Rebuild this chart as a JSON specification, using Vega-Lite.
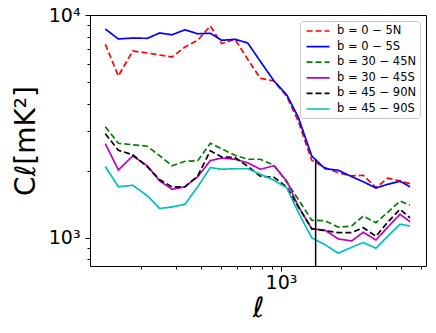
{
  "$schema": "https://vega.github.io/schema/vega-lite/v6.json",
  "width": 336,
  "height": 251,
  "autosize": "none",
  "padding": {"left": 90, "top": 15, "right": 10, "bottom": 67},
  "background": "white",
  "config": {
    "view": {"stroke": "black", "strokeWidth": 1},
    "font": "DejaVu Sans",
    "axis": {"grid": false, "domain": false, "tickColor": "black", "labelColor": "black", "titleColor": "black", "labelFont": "DejaVu Sans", "titleFont": "DejaVu Sans", "titleFontWeight": "normal"},
    "legend": {"strokeColor": "#c8c8c8", "strokeWidth": 1, "fillColor": "white", "cornerRadius": 3, "padding": 3}
  },
  "datasets": {
    "lines": [
      {"l":132.3,"v":7386,"s":"b = 0 − 5N"},{"l":153.7,"v":5321,"s":"b = 0 − 5N"},{"l":181.4,"v":6891,"s":"b = 0 − 5N"},{"l":214.5,"v":6750,"s":"b = 0 − 5N"},{"l":247.5,"v":6611,"s":"b = 0 − 5N"},{"l":285.1,"v":6476,"s":"b = 0 − 5N"},{"l":331.1,"v":7181,"s":"b = 0 − 5N"},{"l":383.3,"v":7697,"s":"b = 0 − 5N"},{"l":443.1,"v":8925,"s":"b = 0 − 5N"},{"l":505.2,"v":7439,"s":"b = 0 − 5N"},{"l":588.8,"v":7778,"s":"b = 0 − 5N"},{"l":681.6,"v":6324,"s":"b = 0 − 5N"},{"l":788,"v":5195,"s":"b = 0 − 5N"},{"l":922.6,"v":5052,"s":"b = 0 − 5N"},{"l":1068,"v":4313,"s":"b = 0 − 5N"},{"l":1220,"v":3331,"s":"b = 0 − 5N"},{"l":1424,"v":2225,"s":"b = 0 − 5N"},{"l":1660,"v":2063,"s":"b = 0 − 5N"},{"l":1934,"v":1955,"s":"b = 0 − 5N"},{"l":2257,"v":1891,"s":"b = 0 − 5N"},{"l":2579,"v":1905,"s":"b = 0 − 5N"},{"l":2985,"v":1677,"s":"b = 0 − 5N"},{"l":3416,"v":1847,"s":"b = 0 − 5N"},{"l":3936,"v":1800,"s":"b = 0 − 5N"},{"l":4416,"v":1745,"s":"b = 0 − 5N"},
      {"l":132.3,"v":8651,"s":"b = 0 − 5S"},{"l":153.7,"v":7802,"s":"b = 0 − 5S"},{"l":181.4,"v":7874,"s":"b = 0 − 5S"},{"l":214.5,"v":7858,"s":"b = 0 − 5S"},{"l":247.5,"v":8301,"s":"b = 0 − 5S"},{"l":285.1,"v":8150,"s":"b = 0 − 5S"},{"l":331.1,"v":8580,"s":"b = 0 − 5S"},{"l":383.3,"v":8233,"s":"b = 0 − 5S"},{"l":443.1,"v":8277,"s":"b = 0 − 5S"},{"l":505.2,"v":7697,"s":"b = 0 − 5S"},{"l":588.8,"v":7778,"s":"b = 0 − 5S"},{"l":681.6,"v":7486,"s":"b = 0 − 5S"},{"l":788,"v":6194,"s":"b = 0 − 5S"},{"l":922.6,"v":5052,"s":"b = 0 − 5S"},{"l":1068,"v":4380,"s":"b = 0 − 5S"},{"l":1220,"v":3471,"s":"b = 0 − 5S"},{"l":1424,"v":2326,"s":"b = 0 − 5S"},{"l":1660,"v":2038,"s":"b = 0 − 5S"},{"l":1934,"v":2006,"s":"b = 0 − 5S"},{"l":2257,"v":1879,"s":"b = 0 − 5S"},{"l":2579,"v":1781,"s":"b = 0 − 5S"},{"l":2985,"v":1670,"s":"b = 0 − 5S"},{"l":3416,"v":1735,"s":"b = 0 − 5S"},{"l":3936,"v":1790,"s":"b = 0 − 5S"},{"l":4416,"v":1691,"s":"b = 0 − 5S"},
      {"l":132.3,"v":3146,"s":"b = 30 − 45N"},{"l":153.7,"v":2652,"s":"b = 30 − 45N"},{"l":181.4,"v":2612,"s":"b = 30 − 45N"},{"l":214.5,"v":2572,"s":"b = 30 − 45N"},{"l":247.5,"v":2331,"s":"b = 30 − 45N"},{"l":285.1,"v":2102,"s":"b = 30 − 45N"},{"l":331.1,"v":2202,"s":"b = 30 − 45N"},{"l":383.3,"v":2213,"s":"b = 30 − 45N"},{"l":443.1,"v":2652,"s":"b = 30 − 45N"},{"l":505.2,"v":2505,"s":"b = 30 − 45N"},{"l":588.8,"v":2343,"s":"b = 30 − 45N"},{"l":681.6,"v":2248,"s":"b = 30 − 45N"},{"l":788,"v":2248,"s":"b = 30 − 45N"},{"l":922.6,"v":2112,"s":"b = 30 − 45N"},{"l":1068,"v":1772,"s":"b = 30 − 45N"},{"l":1220,"v":1486,"s":"b = 30 − 45N"},{"l":1424,"v":1196,"s":"b = 30 − 45N"},{"l":1660,"v":1190,"s":"b = 30 − 45N"},{"l":1934,"v":1113,"s":"b = 30 − 45N"},{"l":2257,"v":1127,"s":"b = 30 − 45N"},{"l":2579,"v":1250,"s":"b = 30 − 45N"},{"l":2985,"v":1166,"s":"b = 30 − 45N"},{"l":3416,"v":1299,"s":"b = 30 − 45N"},{"l":3936,"v":1460,"s":"b = 30 − 45N"},{"l":4416,"v":1397,"s":"b = 30 − 45N"},
      {"l":132.3,"v":2644,"s":"b = 30 − 45S"},{"l":153.7,"v":2012,"s":"b = 30 − 45S"},{"l":181.4,"v":2326,"s":"b = 30 − 45S"},{"l":214.5,"v":2102,"s":"b = 30 − 45S"},{"l":247.5,"v":1796,"s":"b = 30 − 45S"},{"l":285.1,"v":1648,"s":"b = 30 − 45S"},{"l":331.1,"v":1691,"s":"b = 30 − 45S"},{"l":383.3,"v":1876,"s":"b = 30 − 45S"},{"l":443.1,"v":2218,"s":"b = 30 − 45S"},{"l":505.2,"v":2276,"s":"b = 30 − 45S"},{"l":588.8,"v":2248,"s":"b = 30 − 45S"},{"l":681.6,"v":2168,"s":"b = 30 − 45S"},{"l":788,"v":2027,"s":"b = 30 − 45S"},{"l":922.6,"v":2102,"s":"b = 30 − 45S"},{"l":1068,"v":1796,"s":"b = 30 − 45S"},{"l":1220,"v":1382,"s":"b = 30 − 45S"},{"l":1424,"v":1095,"s":"b = 30 − 45S"},{"l":1660,"v":1079,"s":"b = 30 − 45S"},{"l":1934,"v":985.6,"s":"b = 30 − 45S"},{"l":2257,"v":965.4,"s":"b = 30 − 45S"},{"l":2579,"v":1056,"s":"b = 30 − 45S"},{"l":2985,"v":975.4,"s":"b = 30 − 45S"},{"l":3416,"v":1113,"s":"b = 30 − 45S"},{"l":3936,"v":1273,"s":"b = 30 − 45S"},{"l":4416,"v":1178,"s":"b = 30 − 45S"},
      {"l":132.3,"v":2926,"s":"b = 45 − 90N"},{"l":153.7,"v":2467,"s":"b = 45 − 90N"},{"l":181.4,"v":2355,"s":"b = 45 − 90N"},{"l":214.5,"v":2080,"s":"b = 45 − 90N"},{"l":247.5,"v":1818,"s":"b = 45 − 90N"},{"l":285.1,"v":1688,"s":"b = 45 − 90N"},{"l":331.1,"v":1691,"s":"b = 45 − 90N"},{"l":383.3,"v":1891,"s":"b = 45 − 90N"},{"l":443.1,"v":2454,"s":"b = 45 − 90N"},{"l":505.2,"v":2302,"s":"b = 45 − 90N"},{"l":588.8,"v":2288,"s":"b = 45 − 90N"},{"l":681.6,"v":2091,"s":"b = 45 − 90N"},{"l":788,"v":1886,"s":"b = 45 − 90N"},{"l":922.6,"v":1866,"s":"b = 45 − 90N"},{"l":1068,"v":1688,"s":"b = 45 − 90N"},{"l":1220,"v":1375,"s":"b = 45 − 90N"},{"l":1424,"v":1097,"s":"b = 45 − 90N"},{"l":1660,"v":1073,"s":"b = 45 − 90N"},{"l":1934,"v":1053,"s":"b = 45 − 90N"},{"l":2257,"v":1053,"s":"b = 45 − 90N"},{"l":2579,"v":1107,"s":"b = 45 − 90N"},{"l":2985,"v":1013,"s":"b = 45 − 90N"},{"l":3416,"v":1172,"s":"b = 45 − 90N"},{"l":3936,"v":1340,"s":"b = 45 − 90N"},{"l":4416,"v":1227,"s":"b = 45 − 90N"},
      {"l":132.3,"v":2084,"s":"b = 45 − 90S"},{"l":153.7,"v":1691,"s":"b = 45 − 90S"},{"l":181.4,"v":1718,"s":"b = 45 − 90S"},{"l":214.5,"v":1541,"s":"b = 45 − 90S"},{"l":247.5,"v":1351,"s":"b = 45 − 90S"},{"l":285.1,"v":1372,"s":"b = 45 − 90S"},{"l":331.1,"v":1411,"s":"b = 45 − 90S"},{"l":383.3,"v":1691,"s":"b = 45 − 90S"},{"l":443.1,"v":2063,"s":"b = 45 − 90S"},{"l":505.2,"v":2027,"s":"b = 45 − 90S"},{"l":588.8,"v":2038,"s":"b = 45 − 90S"},{"l":681.6,"v":2038,"s":"b = 45 − 90S"},{"l":788,"v":1925,"s":"b = 45 − 90S"},{"l":922.6,"v":1809,"s":"b = 45 − 90S"},{"l":1068,"v":1674,"s":"b = 45 − 90S"},{"l":1220,"v":1299,"s":"b = 45 − 90S"},{"l":1424,"v":998,"s":"b = 45 − 90S"},{"l":1660,"v":928.4,"s":"b = 45 − 90S"},{"l":1934,"v":850.3,"s":"b = 45 − 90S"},{"l":2257,"v":904.5,"s":"b = 45 − 90S"},{"l":2579,"v":949.5,"s":"b = 45 − 90S"},{"l":2985,"v":895.1,"s":"b = 45 − 90S"},{"l":3416,"v":1013,"s":"b = 45 − 90S"},{"l":3936,"v":1148,"s":"b = 45 − 90S"},{"l":4416,"v":1127,"s":"b = 45 − 90S"}
    ],
    "vline": [{"l": 1490, "lo": 745, "hi": 2250}]
  },
  "layer": [
    {
      "data": {"name": "lines"},
      "mark": {"type": "line", "strokeWidth": 1.7, "clip": true},
      "encoding": {
        "x": {"field": "l", "type": "quantitative", "scale": {"type": "log", "domain": [110.9, 5309], "nice": false},
          "axis": {"values": [200,300,400,500,600,700,800,900,1000,2000,3000,4000,5000],
            "labelExpr": "datum.value == 1000 ? '10³' : ''",
            "tickSize": {"condition": {"test": "datum.value == 1000", "value": 5}, "value": 3},
            "labelFontSize": 19, "labelPadding": 2, "labelOverlap": false,
            "title": "ℓ", "titleFontSize": 28, "titleFontStyle": "italic", "titlePadding": 2}},
        "y": {"field": "v", "type": "quantitative", "scale": {"type": "log", "domain": [745, 10000], "nice": false},
          "axis": {"values": [800,900,1000,2000,3000,4000,5000,6000,7000,8000,9000,10000],
            "labelExpr": "datum.value == 1000 ? '10³' : datum.value == 10000 ? '10⁴' : ''",
            "tickSize": {"condition": {"test": "datum.value == 1000 || datum.value == 10000", "value": 5}, "value": 3},
            "labelFontSize": 19, "labelPadding": 5, "labelOverlap": false,
            "title": "Cℓ[mK²]", "titleFontSize": 28, "titlePadding": 8}},
        "color": {"field": "s", "type": "nominal",
          "scale": {"domain": ["b = 0 − 5N","b = 0 − 5S","b = 30 − 45N","b = 30 − 45S","b = 45 − 90N","b = 45 − 90S"],
            "range": ["#ff0000","#0000ff","#008000","#bf00bf","#000000","#00bfbf"]},
          "legend": {"title": null, "orient": "top-right", "offset": 6, "symbolType": "M-0.6,0H3.4", "symbolSize": 132, "symbolStrokeWidth": 1.7,
            "labelFontSize": 11.5, "labelFont": "DejaVu Sans", "labelColor": "black", "labelOffset": 20, "rowPadding": 2.6,
            "strokeColor": "#c8c8c8", "fillColor": "white", "cornerRadius": 3, "padding": 3}},
        "strokeDash": {"field": "s", "type": "nominal",
          "scale": {"domain": ["b = 0 − 5N","b = 0 − 5S","b = 30 − 45N","b = 30 − 45S","b = 45 − 90N","b = 45 − 90S"],
            "range": [[6,3],[1,0],[6,3],[1,0],[6,3],[1,0]]},
          "legend": {"title": null, "orient": "top-right", "offset": 6, "symbolType": "M-0.6,0H3.4", "symbolSize": 132, "symbolStrokeWidth": 1.7,
            "labelFontSize": 11.5, "labelFont": "DejaVu Sans", "labelColor": "black", "labelOffset": 20, "rowPadding": 2.6,
            "strokeColor": "#c8c8c8", "fillColor": "white", "cornerRadius": 3, "padding": 3}}
      }
    },
    {
      "data": {"name": "vline"},
      "mark": {"type": "rule", "color": "black", "strokeWidth": 1.5},
      "encoding": {
        "x": {"field": "l", "type": "quantitative"},
        "y": {"field": "lo", "type": "quantitative"},
        "y2": {"field": "hi"}
      }
    }
  ]
}
